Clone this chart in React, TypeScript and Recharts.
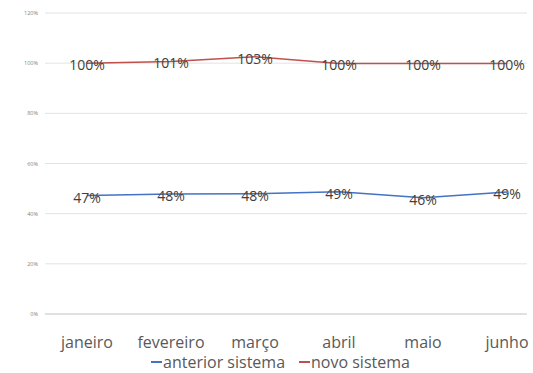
import React from 'react';
import { LineChart, Line, XAxis, YAxis, CartesianGrid, LabelList } from 'recharts';

const months = ['janeiro', 'fevereiro', 'março', 'abril', 'maio', 'junho'];
const anteriorSistema = [47.2, 47.8, 47.9, 48.7, 46.3, 48.6];
const novoSistema = [100, 100.7, 102.6, 99.9, 99.9, 99.9];
const yTicks = [0, 20, 40, 60, 80, 100, 120];
const seriesNames = ['anterior sistema', 'novo sistema'];
const seriesColors = ['#4472c4', '#c0504d'];

const data = months.map((m, i) => ({ month: m, anterior: anteriorSistema[i], novo: novoSistema[i] }));

const FONT = '"Open Sans", "Liberation Sans", sans-serif';

const DataLabel = (props: any) => {
  const { x, y, value } = props;
  return (
    <text x={x} y={y + 7} textAnchor="middle" fontFamily={FONT} fontSize={14} fill="#404040">
      {Math.round(value) + '%'}
    </text>
  );
};

const XTick = (props: any) => {
  const { x, y, payload } = props;
  return (
    <text x={x} y={y + 26} textAnchor="middle" fontFamily={FONT} fontSize={16} fill="#595959">
      {payload.value}
    </text>
  );
};

const YTick = (props: any) => {
  const { y, payload } = props;
  return (
    <text x={38} y={y + 2} textAnchor="end" fontFamily={FONT} fontSize={5.5} fill="#7f7f7f">
      {payload.value + '%'}
    </text>
  );
};

const LegendBox = () => (
  <div
    style={{
      position: 'absolute',
      top: 352,
      left: 0,
      width: 533,
      display: 'flex',
      justifyContent: 'center',
      gap: 14,
      fontFamily: FONT,
      fontSize: 16,
      color: '#595959',
      lineHeight: '20px',
      paddingLeft: 28,
      boxSizing: 'border-box',
    }}
  >
    {seriesNames.map((name, i) => (
      <div key={name} style={{ display: 'flex', alignItems: 'center' }}>
        <span style={{ display: 'inline-block', width: 11, height: 1.5, background: seriesColors[i], marginRight: 1 }} />
        <span>{name}</span>
      </div>
    ))}
  </div>
);

export default function App() {
  return (
    <div style={{ position: 'absolute', left: 0, top: 0, width: 533, height: 373, background: '#fff', overflow: 'hidden' }}>
      <LineChart width={533} height={373} data={data} margin={{ top: 13, right: 6, left: 0, bottom: 0 }}>
        <CartesianGrid vertical={false} stroke="#e3e3e3" strokeWidth={1} />
        <XAxis
          dataKey="month"
          padding={{ left: 42, right: 20 }}
          tickLine={false}
          axisLine={{ stroke: '#d0d0d0' }}
          tick={<XTick />}
          interval={0}
          height={59}
        />
        <YAxis
          domain={[0, 120]}
          ticks={yTicks}
          width={45}
          tickLine={false}
          axisLine={false}
          tick={<YTick />}
          interval={0}
        />
        <Line type="linear" dataKey="anterior" name={seriesNames[0]} stroke={seriesColors[0]} strokeWidth={1.5} dot={false} isAnimationActive={false}>
          <LabelList dataKey="anterior" content={<DataLabel />} />
        </Line>
        <Line type="linear" dataKey="novo" name={seriesNames[1]} stroke={seriesColors[1]} strokeWidth={1.5} dot={false} isAnimationActive={false}>
          <LabelList dataKey="novo" content={<DataLabel />} />
        </Line>
      </LineChart>
      <LegendBox />
    </div>
  );
}
